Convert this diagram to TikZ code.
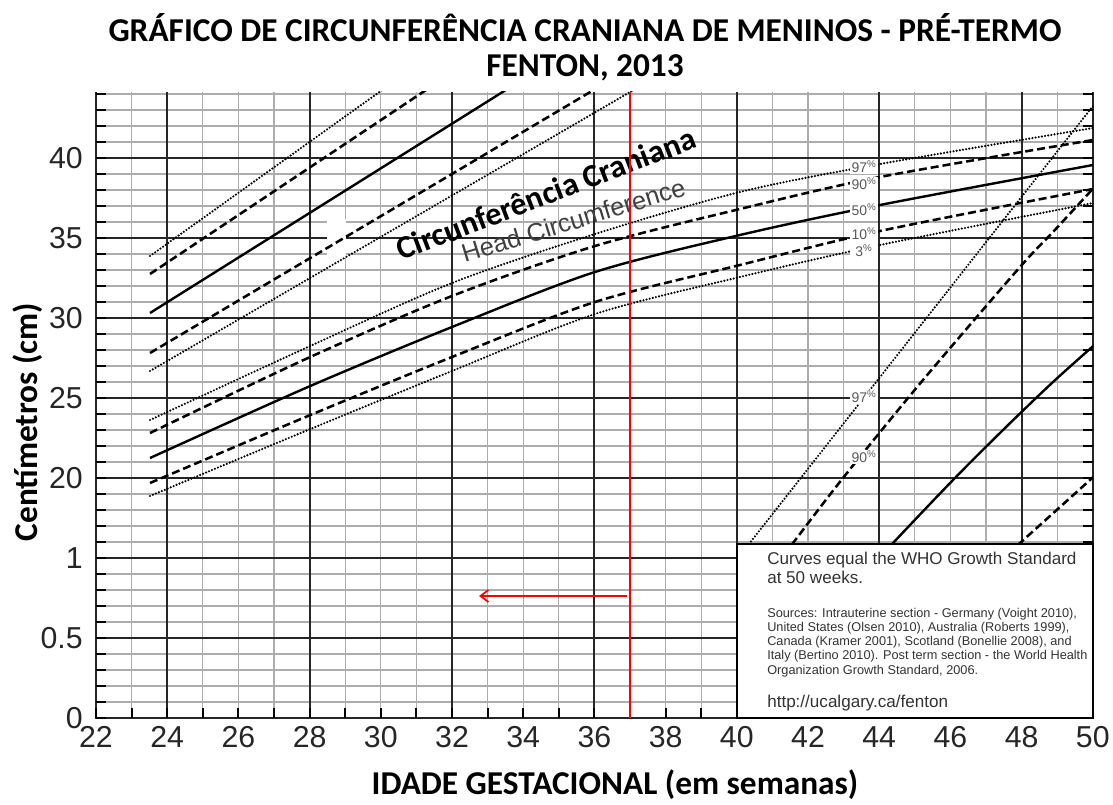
\documentclass[tikz,border=0pt]{standalone}
\usepackage{fontspec}
\setmainfont{Liberation Sans}
\newfontfamily\carlito{Carlito}
\usetikzlibrary{arrows.meta}
\tikzset{
	minorline/.style={draw=black!32,line width=1pt},
	majorline/.style={draw=black!85,line width=1.6pt},
	tickline/.style={draw=black,line width=1.6pt},
	solidcurve/.style={line width=1.8pt},
	dashcurve/.style={line width=1.9pt,dash pattern=on 6pt off 3pt},
	dotcurve/.style={line width=1.8pt,line cap=round,dash pattern=on 0pt off 2.4pt},
	pctlabel/.style={fill=white,inner sep=0pt,minimum width=21pt,minimum height=10pt,text=black!65,font=\fontsize{10.5}{10}\selectfont},
	ticklabel/.style={font=\fontsize{22.7}{24}\selectfont,text=black!85},
	titlestyle/.style={font=\carlito\bfseries\fontsize{25}{28}\selectfont},
	boxtext/.style={anchor=base west,inner sep=0pt,text=black!80,font=\fontsize{12.8}{14}\selectfont},
	srctext/.style={anchor=base west,inner sep=0pt,text=black!80,font=\fontsize{9.55}{10}\selectfont},
	redline/.style={draw=red,line width=1.5pt},
	redarrow/.style={draw=red,line width=1.3pt,-{Straight Barb[length=6pt,width=9pt]}}
}
\begin{document}
\begin{tikzpicture}[x=0.75pt,y=-0.75pt]
	\useasboundingbox (0,0) rectangle (1113,805);
	% grid
	\foreach \i in {0,...,28}
		\draw[minorline] ({96+35.6*\i},92) -- ({96+35.6*\i},718);
	\foreach \j in {0,...,39}
		\draw[minorline] (96,{718-16*\j}) -- (1093,{718-16*\j});
	\foreach \i in {2,6,...,26}
		\draw[majorline] ({96+35.6*\i},92) -- ({96+35.6*\i},718);
	\foreach \j in {0,5,...,35}
		\draw[majorline] (96,{718-16*\j}) -- (1093,{718-16*\j});
	\draw[majorline] (96,92) -- (96,718) -- (1093,718) -- (1093,92);
	\foreach \j in {0,...,39} {
		\draw[tickline] (96,{718-16*\j}) -- ++(10,0);
		\draw[tickline] (1093,{718-16*\j}) -- ++(-10,0);
	}
	\foreach \i in {0,...,28}
		\draw[tickline] ({96+35.6*\i},718) -- ++(0,-10);
	\fill[white] (327,219) rectangle (346,258);
	% curves
	\begin{scope}
		\clip (96,92) rectangle (1093,718);
		\draw[dotcurve] (150,256) -- (385,88);
		\draw[dashcurve] (150,274) -- (429,88);
		\draw[solidcurve] (150,313) -- (509,88);
		\draw[dashcurve] (150,353) -- (597,88);
		\draw[dotcurve] (150,371) -- (637,88);
		\draw[dotcurve] plot[smooth] coordinates {(150,420) (308,347) (452,283) (595,234) (740,192) (880,164) (1093,128)};
		\draw[dashcurve] plot[smooth] coordinates {(150,433) (308,358) (452,296) (595,246) (740,209) (880,177) (1093,140)};
		\draw[solidcurve] plot[smooth] coordinates {(150,458) (308,387) (452,327) (595,272) (740,235) (880,205) (1093,165)};
		\draw[dashcurve] plot[smooth] coordinates {(150,483) (308,416) (452,357) (595,302) (740,265) (880,231) (1093,189)};
		\draw[dotcurve] plot[smooth] coordinates {(150,496) (308,430) (452,371) (595,314) (740,277) (880,245) (1093,203)};
		\draw[dotcurve] (745,549) -- (1100,97);
		\draw[dashcurve] plot[smooth] coordinates {(770,573) (793,543) (843,478) (923,380) (1020,267) (1053,232) (1100,181)};
		\draw[solidcurve] plot[smooth] coordinates {(870,568) (893,543) (953,480) (1003,430) (1053,382) (1100,340)};
		\draw[dashcurve] (1000,561) -- (1100,471);
	\end{scope}
	\node[pctlabel] (p97) at (864,167) {97\textsuperscript{\%}};
	\node[pctlabel] (p90) at (864,184) {90\textsuperscript{\%}};
	\node[pctlabel] (p50) at (864,210) {50\textsuperscript{\%}};
	\node[pctlabel] (p10) at (864,234) {10\textsuperscript{\%}};
	\node[pctlabel] (p3) at (864,251) {3\textsuperscript{\%}};
	\node[pctlabel] (w97) at (864,397) {97\textsuperscript{\%}};
	\node[pctlabel] (w90) at (864,457) {90\textsuperscript{\%}};
	\node[anchor=base,rotate=21,inner sep=0pt,font=\carlito\bfseries\fontsize{24.2}{26}\selectfont] (hcpt) at (550,204) {Circunferência Craniana};
	\node[anchor=base,rotate=17,inner sep=0pt,text=black!75,font=\fontsize{19}{20}\selectfont] (hcen) at (576,229) {Head Circumference};
	% note box
	\draw[line width=1.5pt,fill=white] (737,544) rectangle (1093,718);
	\node[boxtext] (who1) at (767,564) {Curves equal the WHO Growth Standard};
	\node[boxtext] (who2) at (767,583) {at 50 weeks.};
	\foreach \t [count=\n] in {{Sources: Intrauterine section - Germany (Voight 2010),},
		{United States (Olsen 2010), Australia (Roberts 1999),},
		{Canada (Kramer 2001), Scotland (Bonellie 2008), and},
		{Italy (Bertino 2010). Post term section - the World Health},
		{Organization Growth Standard, 2006.}}
		\node[srctext] (src\n) at (767,{617+14.3*(\n-1)}) {\t};
	\node[boxtext] (url) at (767,707) {http://ucalgary.ca/fenton};
	% red marks
	\coordinate (redtop) at (630,92);
	\coordinate (redbottom) at (630,718);
	\draw[redline] (redtop) -- (redbottom);
	\coordinate (arrowstart) at (627,596);
	\coordinate (arrowend) at (479,596);
	\draw[redarrow] (arrowstart) -- (arrowend);
	% axes labels
	\foreach \w [count=\n from 0] in {22,24,...,50}
		\node[ticklabel] (xt\w) at ({96+71.2*\n},737) {\w};
	\foreach \v/\y in {0/718,0.5/638,1/558,20/478,25/398,30/318,35/238,40/158}
		\node[ticklabel,anchor=east,inner sep=0pt] (yt\y) at (83,\y) {\v};
	\node[titlestyle] (title) at (585,28) {GRÁFICO DE CIRCUNFERÊNCIA CRANIANA DE MENINOS - PRÉ-TERMO};
	\node[titlestyle] (year) at (585,68) {FENTON, 2013};
	\node[titlestyle] (xlabel) at (615,785) {IDADE GESTACIONAL (em semanas)};
	\node[titlestyle,rotate=90] (ylabel) at (28,422) {Centímetros (cm)};
\end{tikzpicture}
\end{document}
